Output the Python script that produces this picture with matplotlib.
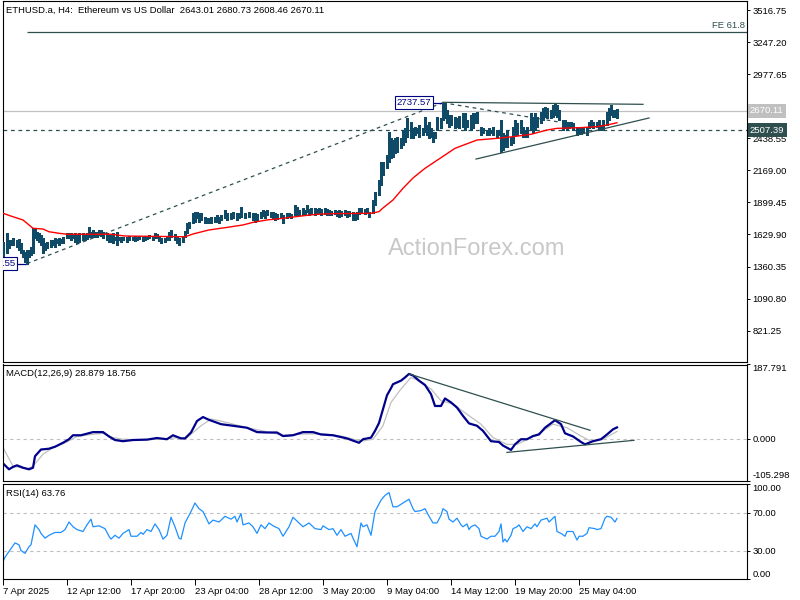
import matplotlib
matplotlib.use("Agg")
import matplotlib.pyplot as plt
import matplotlib.transforms as mtransforms

plt.rcParams['font.family'] = ['Liberation Sans', 'DejaVu Sans']

# ---- data (H4 bar index from 7 Apr 2025 04:00) ----
bar_idx = [0, 2, 3, 4, 5, 7, 8, 9, 10, 11,
           12, 13, 14, 15, 16, 17, 18, 19, 20, 21,
           22, 24, 25, 26, 27, 28, 29, 30, 32, 33,
           34, 35, 36, 37, 38, 40, 41, 42, 43, 44,
           45, 46, 47, 48, 49, 50, 52, 53, 54, 55,
           56, 57, 58, 59, 60, 62, 63, 65, 66, 67,
           68, 70, 71, 72, 73, 75, 76, 77, 78, 79,
           81, 82, 83, 84, 86, 87, 88, 90, 91, 92,
           93, 95, 96, 97, 98, 99, 101, 102, 103, 104,
           106, 107, 108, 109, 111, 112, 114, 115, 117, 118,
           119, 121, 123, 125, 126, 127, 129, 130, 131, 132,
           134, 135, 136, 137, 139, 140, 142, 143, 144, 146,
           147, 148, 150, 151, 152, 153, 154, 156, 157, 158,
           159, 161, 162, 163, 164, 166, 167, 168, 169, 171,
           172, 173, 175, 176, 177, 178, 179, 181, 182, 183,
           185, 186, 188, 189, 190, 192, 193, 194, 195, 196,
           197, 199, 200, 201, 202, 204, 205, 206, 207, 208,
           210, 211, 212, 213, 214, 215, 216, 217, 219, 220,
           221, 222, 223, 224, 226, 227, 228, 230, 231, 232,
           234, 235, 236, 237, 239, 240, 242, 243, 244, 245,
           247, 248, 249, 250, 251, 252, 254, 255, 256, 257,
           259, 260, 261, 262, 264, 265, 266, 267, 269, 270,
           271, 272, 274, 275, 276, 277, 278, 280, 281, 282,
           283, 284, 285, 287, 288, 289, 290, 292, 293, 294,
           295, 297, 298, 299, 300, 302, 303, 304, 305, 306,
           307]
bar_high = [1567, 1643, 1584, 1584, 1600, 1584, 1592, 1558, 1500, 1483,
            1500, 1500, 1525, 1685, 1685, 1651, 1643, 1626, 1600, 1558,
            1567, 1584, 1584, 1600, 1592, 1600, 1592, 1609, 1643, 1643,
            1643, 1626, 1643, 1626, 1643, 1643, 1626, 1643, 1693, 1651,
            1668, 1651, 1651, 1668, 1668, 1651, 1643, 1626, 1626, 1643,
            1609, 1651, 1609, 1609, 1609, 1609, 1617, 1609, 1617, 1609,
            1617, 1609, 1617, 1617, 1626, 1617, 1643, 1634, 1609, 1600,
            1600, 1617, 1651, 1668, 1634, 1609, 1600, 1617, 1659, 1726,
            1735, 1811, 1819, 1819, 1811, 1811, 1777, 1769, 1769, 1777,
            1777, 1794, 1777, 1794, 1836, 1811, 1811, 1819, 1811, 1811,
            1861, 1811, 1819, 1811, 1811, 1802, 1819, 1836, 1827, 1836,
            1819, 1819, 1811, 1802, 1811, 1794, 1811, 1811, 1802, 1878,
            1861, 1836, 1853, 1836, 1878, 1844, 1853, 1853, 1844, 1853,
            1844, 1853, 1844, 1836, 1827, 1836, 1827, 1836, 1827, 1836,
            1827, 1827, 1819, 1811, 1819, 1853, 1853, 1844, 1853, 1819,
            1920, 1987, 2088, 2239, 2239, 2298, 2491, 2441, 2424, 2441,
            2449, 2441, 2508, 2525, 2609, 2575, 2525, 2533, 2525, 2550,
            2525, 2617, 2550, 2575, 2525, 2491, 2491, 2617, 2609, 2737.57,
            2735, 2676, 2634, 2634, 2617, 2609, 2626, 2651, 2651, 2592,
            2634, 2651, 2651, 2659, 2533, 2525, 2508, 2525, 2508, 2533,
            2508, 2508, 2592, 2483, 2466, 2508, 2449, 2533, 2592, 2567,
            2592, 2533, 2508, 2533, 2651, 2617, 2651, 2617, 2659, 2693,
            2701, 2693, 2676, 2718, 2735, 2718, 2676, 2592, 2592, 2575,
            2575, 2575, 2567, 2533, 2533, 2525, 2533, 2533, 2575, 2592,
            2575, 2575, 2592, 2550, 2592, 2659, 2693, 2718, 2676, 2676,
            2680.73]
bar_low = [1432, 1475, 1517, 1542, 1542, 1525, 1500, 1475, 1441, 1399,
           1385.55, 1441, 1458, 1475, 1600, 1584, 1567, 1542, 1475, 1500,
           1517, 1525, 1542, 1525, 1558, 1542, 1558, 1558, 1600, 1600,
           1584, 1600, 1567, 1558, 1567, 1584, 1584, 1592, 1609, 1609,
           1609, 1609, 1609, 1626, 1617, 1600, 1584, 1567, 1567, 1558,
           1584, 1542, 1584, 1567, 1584, 1567, 1584, 1584, 1575, 1584,
           1592, 1575, 1584, 1592, 1600, 1584, 1600, 1600, 1575, 1558,
           1567, 1584, 1584, 1609, 1584, 1558, 1542, 1567, 1609, 1643,
           1685, 1726, 1735, 1769, 1735, 1752, 1726, 1726, 1726, 1726,
           1735, 1735, 1726, 1752, 1769, 1752, 1760, 1769, 1752, 1769,
           1777, 1769, 1777, 1752, 1735, 1752, 1769, 1785, 1769, 1794,
           1777, 1769, 1752, 1760, 1769, 1726, 1769, 1777, 1769, 1794,
           1794, 1794, 1794, 1802, 1819, 1794, 1802, 1794, 1802, 1811,
           1794, 1802, 1794, 1794, 1794, 1802, 1785, 1777, 1785, 1794,
           1777, 1785, 1752, 1752, 1760, 1802, 1811, 1802, 1811, 1777,
           1811, 1878, 1962, 2046, 2130, 2189, 2239, 2273, 2281, 2315,
           2323, 2357, 2382, 2407, 2449, 2441, 2441, 2466, 2483, 2449,
           2466, 2491, 2466, 2441, 2449, 2407, 2441, 2508, 2525, 2592,
           2609, 2567, 2533, 2550, 2525, 2533, 2525, 2533, 2508, 2533,
           2508, 2525, 2567, 2567, 2466, 2483, 2466, 2466, 2483, 2466,
           2449, 2466, 2323, 2340, 2365, 2365, 2382, 2399, 2466, 2466,
           2483, 2449, 2449, 2449, 2508, 2483, 2508, 2533, 2567, 2592,
           2617, 2609, 2609, 2617, 2634, 2617, 2592, 2508, 2525, 2508,
           2525, 2533, 2508, 2466, 2483, 2474, 2483, 2466, 2525, 2533,
           2525, 2533, 2508, 2508, 2508, 2550, 2592, 2634, 2617, 2617,
           2608.46]

ma_idx = [0, 5, 10, 13, 15, 20, 23, 28, 32, 54, 61, 91, 95, 103, 111, 120, 125,
          132, 140, 149, 157, 165, 184, 188, 190, 195, 200, 205, 211, 216, 221,
          226, 231, 237, 247, 255, 264, 272, 277, 289, 297, 302, 307]
ma_val = [1808, 1779, 1752, 1710, 1682, 1676, 1653, 1640, 1632, 1632, 1617, 1611,
          1634, 1668, 1687, 1710, 1732, 1752, 1766, 1785, 1800, 1805, 1808, 1822,
          1853, 1920, 2018, 2105, 2186, 2242, 2298, 2354, 2386, 2424, 2438, 2452,
          2472, 2508, 2522, 2528, 2536, 2550, 2569]

macd_idx = [0, 3, 5, 7, 10, 13, 15, 16, 19, 23, 26, 30, 33, 35, 39, 45, 50, 53,
            56, 60, 65, 72, 77, 82, 85, 89, 91, 94, 97, 100, 103, 109, 115, 122,
            127, 132, 137, 140, 145, 150, 155, 159, 165, 172, 178, 180, 184, 186,
            188, 190, 192, 194, 195, 199, 201, 203, 205, 208, 211, 214, 216, 219,
            221, 224, 227, 230, 233, 237, 240, 244, 248, 250, 254, 256, 259, 262,
            265, 268, 271, 276, 279, 281, 285, 289, 291, 295, 299, 302, 305, 307]
macd_val = [-62, -77, -71, -67, -73, -77, -73, -44, -27, -25, -20, -10, -1, 9, 9,
            17, 17, 6, -3, -6, -3, -2, 2, -1, 9, 1, 1, 16, 45, 55, 48, 37, 33, 28,
            17, 16, 16, 7, 9, 17, 17, 11, 9, 1, -10, -1, 3, 20, 40, 75, 110, 128,
            138, 147, 155, 164, 160, 147, 136, 113, 83, 83, 102, 92, 79, 58, 39,
            33, 20, -6, -8, -17, -28, -14, -1, -1, 7, 11, 28, 47, 37, 14, 6, -8,
            -14, -6, -1, 11, 24, 28.879]

sig_idx = [0, 5, 12, 15, 20, 25, 32, 37, 44, 50, 55, 60, 70, 80, 88, 92, 99, 104,
           109, 122, 130, 140, 150, 160, 170, 179, 185, 190, 194, 199, 204, 207,
           214, 219, 225, 232, 239, 245, 252, 257, 264, 270, 275, 282, 289, 294,
           300, 307]
sig_val = [-22, -69, -76, -69, -39, -22, -8, 6, 11, 14, 3, -1, -3, 0, 3, 3, 33,
           50, 45, 28, 20, 9, 12, 13, 6, -6, -1, 33, 92, 126, 155, 149, 126, 96,
           88, 62, 37, 3, -14, -14, 3, 20, 37, 28, 7, -6, -1, 18.756]

rsi_idx = [0, 1, 3, 4, 6, 8, 9, 11, 13, 14, 16, 18, 19, 21, 23, 26, 29, 31, 33,
           35, 37, 40, 42, 44, 45, 48, 51, 53, 54, 56, 58, 60, 63, 64, 67, 69,
           70, 72, 74, 76, 78, 80, 82, 84, 86, 88, 89, 91, 94, 96, 98, 100, 103,
           105, 108, 111, 114, 116, 117, 119, 120, 123, 125, 127, 129, 131, 133,
           135, 138, 140, 143, 145, 148, 150, 153, 156, 159, 160, 163, 165, 167,
           169, 171, 174, 175, 177, 179, 180, 182, 184, 186, 189, 191, 193, 195,
           197, 200, 203, 205, 206, 209, 211, 213, 215, 217, 219, 220, 222, 223,
           225, 227, 229, 230, 232, 233, 234, 236, 238, 239, 242, 244, 246, 248,
           249, 250, 251, 252, 254, 255, 257, 258, 260, 262, 264, 266, 267, 269,
           272, 273, 275, 276, 277, 279, 281, 282, 285, 287, 288, 290, 292, 293,
           296, 297, 299, 301, 302, 304, 306, 307]
rsi_val = [18, 23, 29, 32, 38, 36, 30, 27, 34, 36, 57, 52, 48, 43, 46, 49, 49, 52,
           60, 55, 52, 50, 57, 63, 55, 56, 53, 45, 42, 46, 43, 48, 52, 45, 45, 49,
           47, 52, 50, 58, 52, 42, 46, 65, 55, 43, 42, 59, 71, 80, 74, 71, 58, 62,
           60, 66, 63, 66, 60, 69, 57, 59, 55, 48, 57, 53, 59, 56, 53, 45, 55, 65,
           59, 55, 59, 53, 52, 56, 52, 53, 46, 52, 45, 48, 43, 34, 59, 55, 57, 46,
           71, 83, 88, 91, 76, 76, 80, 84, 74, 71, 72, 74, 66, 59, 59, 67, 74, 71,
           63, 60, 64, 57, 55, 58, 52, 55, 57, 53, 45, 42, 45, 45, 50, 58, 39, 42,
           39, 46, 53, 55, 57, 50, 55, 53, 58, 55, 62, 64, 60, 64, 66, 50, 48, 45,
           50, 50, 41, 45, 45, 48, 54, 53, 52, 53, 64, 66, 65, 60, 63.76]

tick_idx = [0, 32, 64, 96, 128, 160, 192, 224, 256, 288]
tick_lbl = ["7 Apr 2025", "12 Apr 12:00", "17 Apr 20:00", "23 Apr 04:00",
            "28 Apr 12:00", "3 May 20:00", "9 May 04:00", "14 May 12:00",
            "19 May 20:00", "25 May 04:00"]

price_ticks = [821.25, 1090.80, 1360.35, 1629.90, 1899.45, 2169.00,
               2438.55, 2708.10, 2977.65, 3247.20, 3516.75]

low_a, high_b, fe618 = 1385.55, 2737.57, 3329
last_close, level = 2670.11, 2507.39
macd_last, sig_last, rsi_last = 28.879, 18.756, 63.76

# ---- layout (pixel boxes of the panes) ----
W, H = 800, 600
def rect(x0, y0, x1, y1):
    return [x0 / W, 1 - y1 / H, (x1 - x0) / W, (y1 - y0) / H]

BAR_C = '#0f4a66'
DS = '#2f4f4f'
NAVY = '#000080'
SILVER = '#c0c0c0'
FS = 6.8

fig = plt.figure(figsize=(8, 6), dpi=100)
ax_p = fig.add_axes(rect(2.7, 0.5, 747, 361.7))
ax_m = fig.add_axes(rect(2.7, 364.5, 747, 480.5), sharex=ax_p)
ax_r = fig.add_axes(rect(2.7, 484, 747, 579), sharex=ax_p)

for ax in (ax_p, ax_m, ax_r):
    for s in ax.spines.values():
        s.set_linewidth(0.8)
    ax.yaxis.tick_right()
    ax.tick_params(axis='y', direction='out', length=2.5, width=0.7,
                   labelsize=FS, pad=1.5)
    ax.tick_params(axis='x', bottom=False, labelbottom=False)
ax_p.set_xlim(-0.15, 372)

# watermark
fig.text(477 / W, 1 - 249 / H, 'ActionForex.com', ha='center', va='center',
         fontsize=17, color='#c8c8c8', zorder=0)

# ---- price pane ----
ax_p.set_ylim(560.7, 3596.6)
ax_p.set_yticks(price_ticks)
ax_p.set_yticklabels([f'{v:.2f}' for v in price_ticks])

ax_p.axhline(last_close, color=SILVER, lw=0.9, zorder=1)
ax_p.axhline(level, color=DS, lw=0.9, ls=(0, (3, 3)), zorder=1)
ax_p.hlines(fe618, 12, 372, color=DS, lw=0.9)
ax_p.text(371, fe618 + 20, 'FE 61.8', ha='right', va='bottom', fontsize=FS,
          color=DS)
ax_p.plot([12, 220], [low_a, high_b], color=DS, lw=0.9, ls=(0, (3, 3)))
ax_p.plot([220, 278], [high_b, 2575], color=DS, lw=0.9, ls=(0, (3, 3)))

ax_p.vlines(bar_idx, bar_low, bar_high, colors=BAR_C, lw=0.75, zorder=3,
            antialiased=False)
ax_p.plot(ma_idx, ma_val, color='red', lw=1.0, zorder=4)

# triangle
ax_p.plot([220, 320], [2741, 2724], color=DS, lw=0.9, zorder=4)
ax_p.plot([236.5, 323], [2264, 2609], color=DS, lw=0.9, zorder=4)

# swing labels
ax_p.plot([6.5, 12], [low_a, low_a], color=NAVY, lw=0.9)
ax_p.text(6.3, low_a, f'{low_a:.2f}', ha='right', va='center', fontsize=FS,
          color=NAVY, clip_on=True,
          bbox=dict(boxstyle='square,pad=0.2', fc='white', ec=NAVY, lw=0.8))
ax_p.plot([214.5, 220], [high_b, high_b], color=NAVY, lw=0.9)
ax_p.text(214.3, high_b, f'{high_b:.2f}', ha='right', va='center',
          fontsize=FS, color=NAVY, zorder=6,
          bbox=dict(boxstyle='square,pad=0.2', fc='white', ec=NAVY, lw=0.8))

blend = mtransforms.blended_transform_factory(ax_p.transAxes, ax_p.transData)
ax_p.text(1.004, last_close, f'{last_close:.2f}', transform=blend, ha='left',
          va='center', fontsize=FS, color='white', zorder=10, clip_on=False,
          bbox=dict(boxstyle='square,pad=0.25', fc=SILVER, ec='none'))
ax_p.text(1.004, level, f'{level:.2f}', transform=blend, ha='left',
          va='center', fontsize=FS, color='white', zorder=10, clip_on=False,
          bbox=dict(boxstyle='square,pad=0.25', fc=DS, ec='none'))

fig.text(6 / W, 1 - 10 / H,
         f'ETHUSD.a, H4:  Ethereum vs US Dollar  2643.01 2680.73 2608.46 {last_close:.2f}',
         ha='left', va='center', fontsize=FS)

# ---- MACD pane ----
macd_lo, macd_hi = -105.298, 187.791
ax_m.set_ylim(macd_lo, macd_hi)
ax_m.axhline(0, color=SILVER, lw=0.8, ls=(0, (3, 3)))
ax_m.plot(sig_idx, sig_val, color=SILVER, lw=0.9)
ax_m.plot(macd_idx, macd_val, color='#00008b', lw=1.6)
ax_m.plot([203, 293.5], [164, 21.6], color=DS, lw=0.9)
ax_m.plot([252, 315.5], [-34.3, -3.8], color=DS, lw=0.9)
ax_m.set_yticks([macd_lo, 0, macd_hi])
labs = ax_m.set_yticklabels([f'{macd_lo:.3f}', '0.000', f'{macd_hi:.3f}'])
labs[0].set_va('bottom')
labs[2].set_va('top')
fig.text(6 / W, 1 - 374 / H, f'MACD(12,26,9) {macd_last:.3f} {sig_last:.3f}',
         ha='left', va='center', fontsize=FS)

# ---- RSI pane ----
ax_r.set_ylim(0, 100)
for lv in (30, 70):
    ax_r.axhline(lv, color=SILVER, lw=0.8, ls=(0, (3, 3)))
ax_r.plot(rsi_idx, rsi_val, color='#1e90ff', lw=0.9)
ax_r.set_yticks([0, 30, 70, 100])
labs = ax_r.set_yticklabels(['0.00', '30.00', '70.00', '100.00'])
labs[0].set_va('bottom')
labs[3].set_va('top')
fig.text(6 / W, 1 - 493 / H, f'RSI(14) {rsi_last:.2f}', ha='left',
         va='center', fontsize=FS)

ax_r.tick_params(axis='x', bottom=True, labelbottom=True, direction='out',
                 length=4, width=0.7, labelsize=FS, pad=1.5)
ax_r.set_xticks(tick_idx)
for t in ax_r.set_xticklabels(tick_lbl):
    t.set_ha('left')
ax_p.set_xlim(-0.15, 372)

fig.savefig('out.png', dpi=100)
